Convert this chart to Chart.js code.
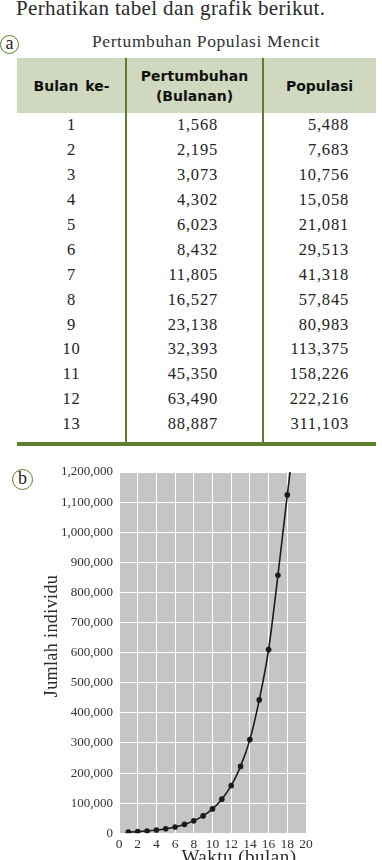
<!DOCTYPE html>
<html>
<head>
<meta charset="utf-8">
<script src="https://cdn.jsdelivr.net/npm/chart.js@4"></script>
<style>
  html, body { margin: 0; padding: 0; background: #fff; }
  body { width: 382px; height: 860px; overflow: hidden; position: relative; font-family: "Liberation Serif", serif; color: #222; }
  .abs { position: absolute; }
  #intro { left: 16px; top: -4px; font-size: 21px; line-height: 24px; letter-spacing: 0.35px; white-space: nowrap; color: #2a2a2a; }
  #tblTitle { left: 30px; width: 352px; top: 31px; text-align: center; font-size: 17.5px; line-height: 20px; letter-spacing: 0.6px; color: #333; }
  .badge { border: 1.6px solid #5b7f2c; border-radius: 50%; box-sizing: border-box; text-align: center; font-size: 18px; color: #222; }
  #tblWrap { left: 17px; top: 58px; width: 359px; }
  table { border-collapse: collapse; table-layout: fixed; width: 359px; }
  thead tr { height: 55px; background: #d0d9bf; }
  th { font-family: "DejaVu Sans", sans-serif; font-weight: bold; font-size: 14px; line-height: 20px; color: #111; padding: 0; word-spacing: 2px; }
  tbody tr { height: 24.9px; }
  td { padding: 0; font-family: "Liberation Serif", serif; font-size: 16.5px; letter-spacing: 0.8px; color: #222; vertical-align: middle; }
  td.c1 { text-align: center; }
  td.c2 { text-align: right; padding-right: 45px; }
  td.c3 { text-align: right; padding-right: 27px; }
  .vline { top: 58px; height: 384px; width: 2px; background: #5b7f2c; }
  #hline { left: 17px; top: 442px; width: 359px; height: 3.5px; background: #5b7f2c; }
  #chartBox { left: 0; top: 455px; width: 382px; height: 430px; }
</style>
</head>
<body>
<div id="intro" class="abs">Perhatikan tabel dan grafik berikut.</div>
<div class="abs badge" style="left:0px;top:35px;width:19px;height:19px;line-height:15px;">a</div>
<div id="tblTitle" class="abs">Pertumbuhan Populasi Mencit</div>
<div id="tblWrap" class="abs">
  <table>
    <colgroup><col style="width:109px"><col style="width:137px"><col style="width:113px"></colgroup>
    <thead><tr><th>Bulan ke-</th><th>Pertumbuhan<br>(Bulanan)</th><th>Populasi</th></tr></thead>
    <tbody id="tbody"></tbody>
  </table>
</div>
<div class="abs vline" style="left:125px"></div>
<div class="abs vline" style="left:262px"></div>
<div id="hline" class="abs"></div>
<div class="abs badge" style="left:12px;top:469px;width:21px;height:21px;line-height:17px;">b</div>
<div id="chartBox" class="abs"><canvas id="growthChart"></canvas></div>

<script>
// table (a)
const bulanKe = [1, 2, 3, 4, 5, 6, 7, 8, 9, 10, 11, 12, 13];
const pertumbuhan = [1568, 2195, 3073, 4302, 6023, 8432, 11805, 16527, 23138, 32393, 45350, 63490, 88887];
const populasi = [5488, 7683, 10756, 15058, 21081, 29513, 41318, 57845, 80983, 113375, 158226, 222216, 311103];

// graph (b)
const waktu = [1, 2, 3, 4, 5, 6, 7, 8, 9, 10, 11, 12, 13, 14, 15, 16, 17, 18];
const jumlah = [3900, 5500, 7700, 10800, 15100, 21100, 29500, 41300, 57800, 81000, 113400, 158200, 222200, 311100, 443000, 610000, 857000, 1124000];
// where the curve leaves the top of the plot
const tailX = 18.3;
const tailY = 1200000;

const yTitle = "Jumlah individu";
const xTitle = "Waktu (bulan)";

const fmt = n => n.toLocaleString("en-US");

const tbody = document.getElementById("tbody");
bulanKe.forEach((b, i) => {
    const tr = document.createElement("tr");
    tr.innerHTML = `<td class="c1">${b}</td><td class="c2">${fmt(pertumbuhan[i])}</td><td class="c3">${fmt(populasi[i])}</td>`;
    tbody.appendChild(tr);
});

const points = waktu.map((w, i) => ({ x: w, y: jumlah[i] }));
points.push({ x: tailX, y: tailY });
const radii = waktu.map(() => 2.8).concat(0);

const plotBg = {
    id: "plotBg",
    beforeDraw(chart) {
        const { ctx, chartArea: a } = chart;
        ctx.save();
        ctx.fillStyle = "#c5c5c5";
        ctx.fillRect(a.left, a.top, a.right - a.left, a.bottom - a.top);
        ctx.restore();
    }
};

const axisTitles = {
    id: "axisTitles",
    afterDraw(chart) {
        const { ctx, chartArea: a } = chart;
        ctx.save();
        ctx.fillStyle = "#2a2a2a";
        ctx.textAlign = "center";
        ctx.textBaseline = "alphabetic";
        ctx.font = '18px "Liberation Serif", serif';
        if ("letterSpacing" in ctx) ctx.letterSpacing = "0.4px";
        ctx.translate(57, a.top + 164);
        ctx.rotate(-Math.PI / 2);
        ctx.fillText(yTitle, 0, 0);
        ctx.restore();

        ctx.save();
        ctx.fillStyle = "#2a2a2a";
        ctx.textAlign = "center";
        ctx.textBaseline = "alphabetic";
        ctx.font = '19px "Liberation Serif", serif';
        if ("letterSpacing" in ctx) ctx.letterSpacing = "0.5px";
        ctx.fillText(xTitle, a.left + 120, a.bottom + 30);
        ctx.restore();
    }
};

const ctx = document.getElementById("growthChart").getContext("2d");
new Chart(ctx, {
    type: "line",
    data: {
        datasets: [{
            data: points,
            borderColor: "#1b1b1b",
            borderWidth: 1.6,
            pointRadius: radii,
            pointBackgroundColor: "#1b1b1b",
            pointBorderWidth: 0,
            cubicInterpolationMode: "monotone",
            fill: false
        }]
    },
    options: {
        responsive: true,
        maintainAspectRatio: false,
        animation: false,
        layout: { padding: { top: 17, right: 76, left: 0, bottom: 0 } },
        plugins: {
            legend: { display: false },
            tooltip: { enabled: false }
        },
        scales: {
            x: {
                type: "linear",
                min: 0,
                max: 20,
                ticks: {
                    stepSize: 2,
                    padding: 3,
                    maxRotation: 0,
                    minRotation: 0,
                    autoSkip: false,
                    color: "#333",
                    font: { family: '"Liberation Serif", serif', size: 13.5 }
                },
                grid: { color: "#ffffff", lineWidth: 1, drawTicks: false },
                border: { display: false },
                afterFit(scale) { scale.height = 51.7; }
            },
            y: {
                min: 0,
                max: 1200000,
                ticks: {
                    stepSize: 100000,
                    padding: 6,
                    color: "#333",
                    font: { family: '"Liberation Serif", serif', size: 13 },
                    callback: v => fmt(v)
                },
                grid: { color: "#ffffff", lineWidth: 1, drawTicks: false },
                border: { display: false },
                afterFit(scale) { scale.width = 119; }
            }
        }
    },
    plugins: [plotBg, axisTitles]
});
</script>
</body>
</html>
